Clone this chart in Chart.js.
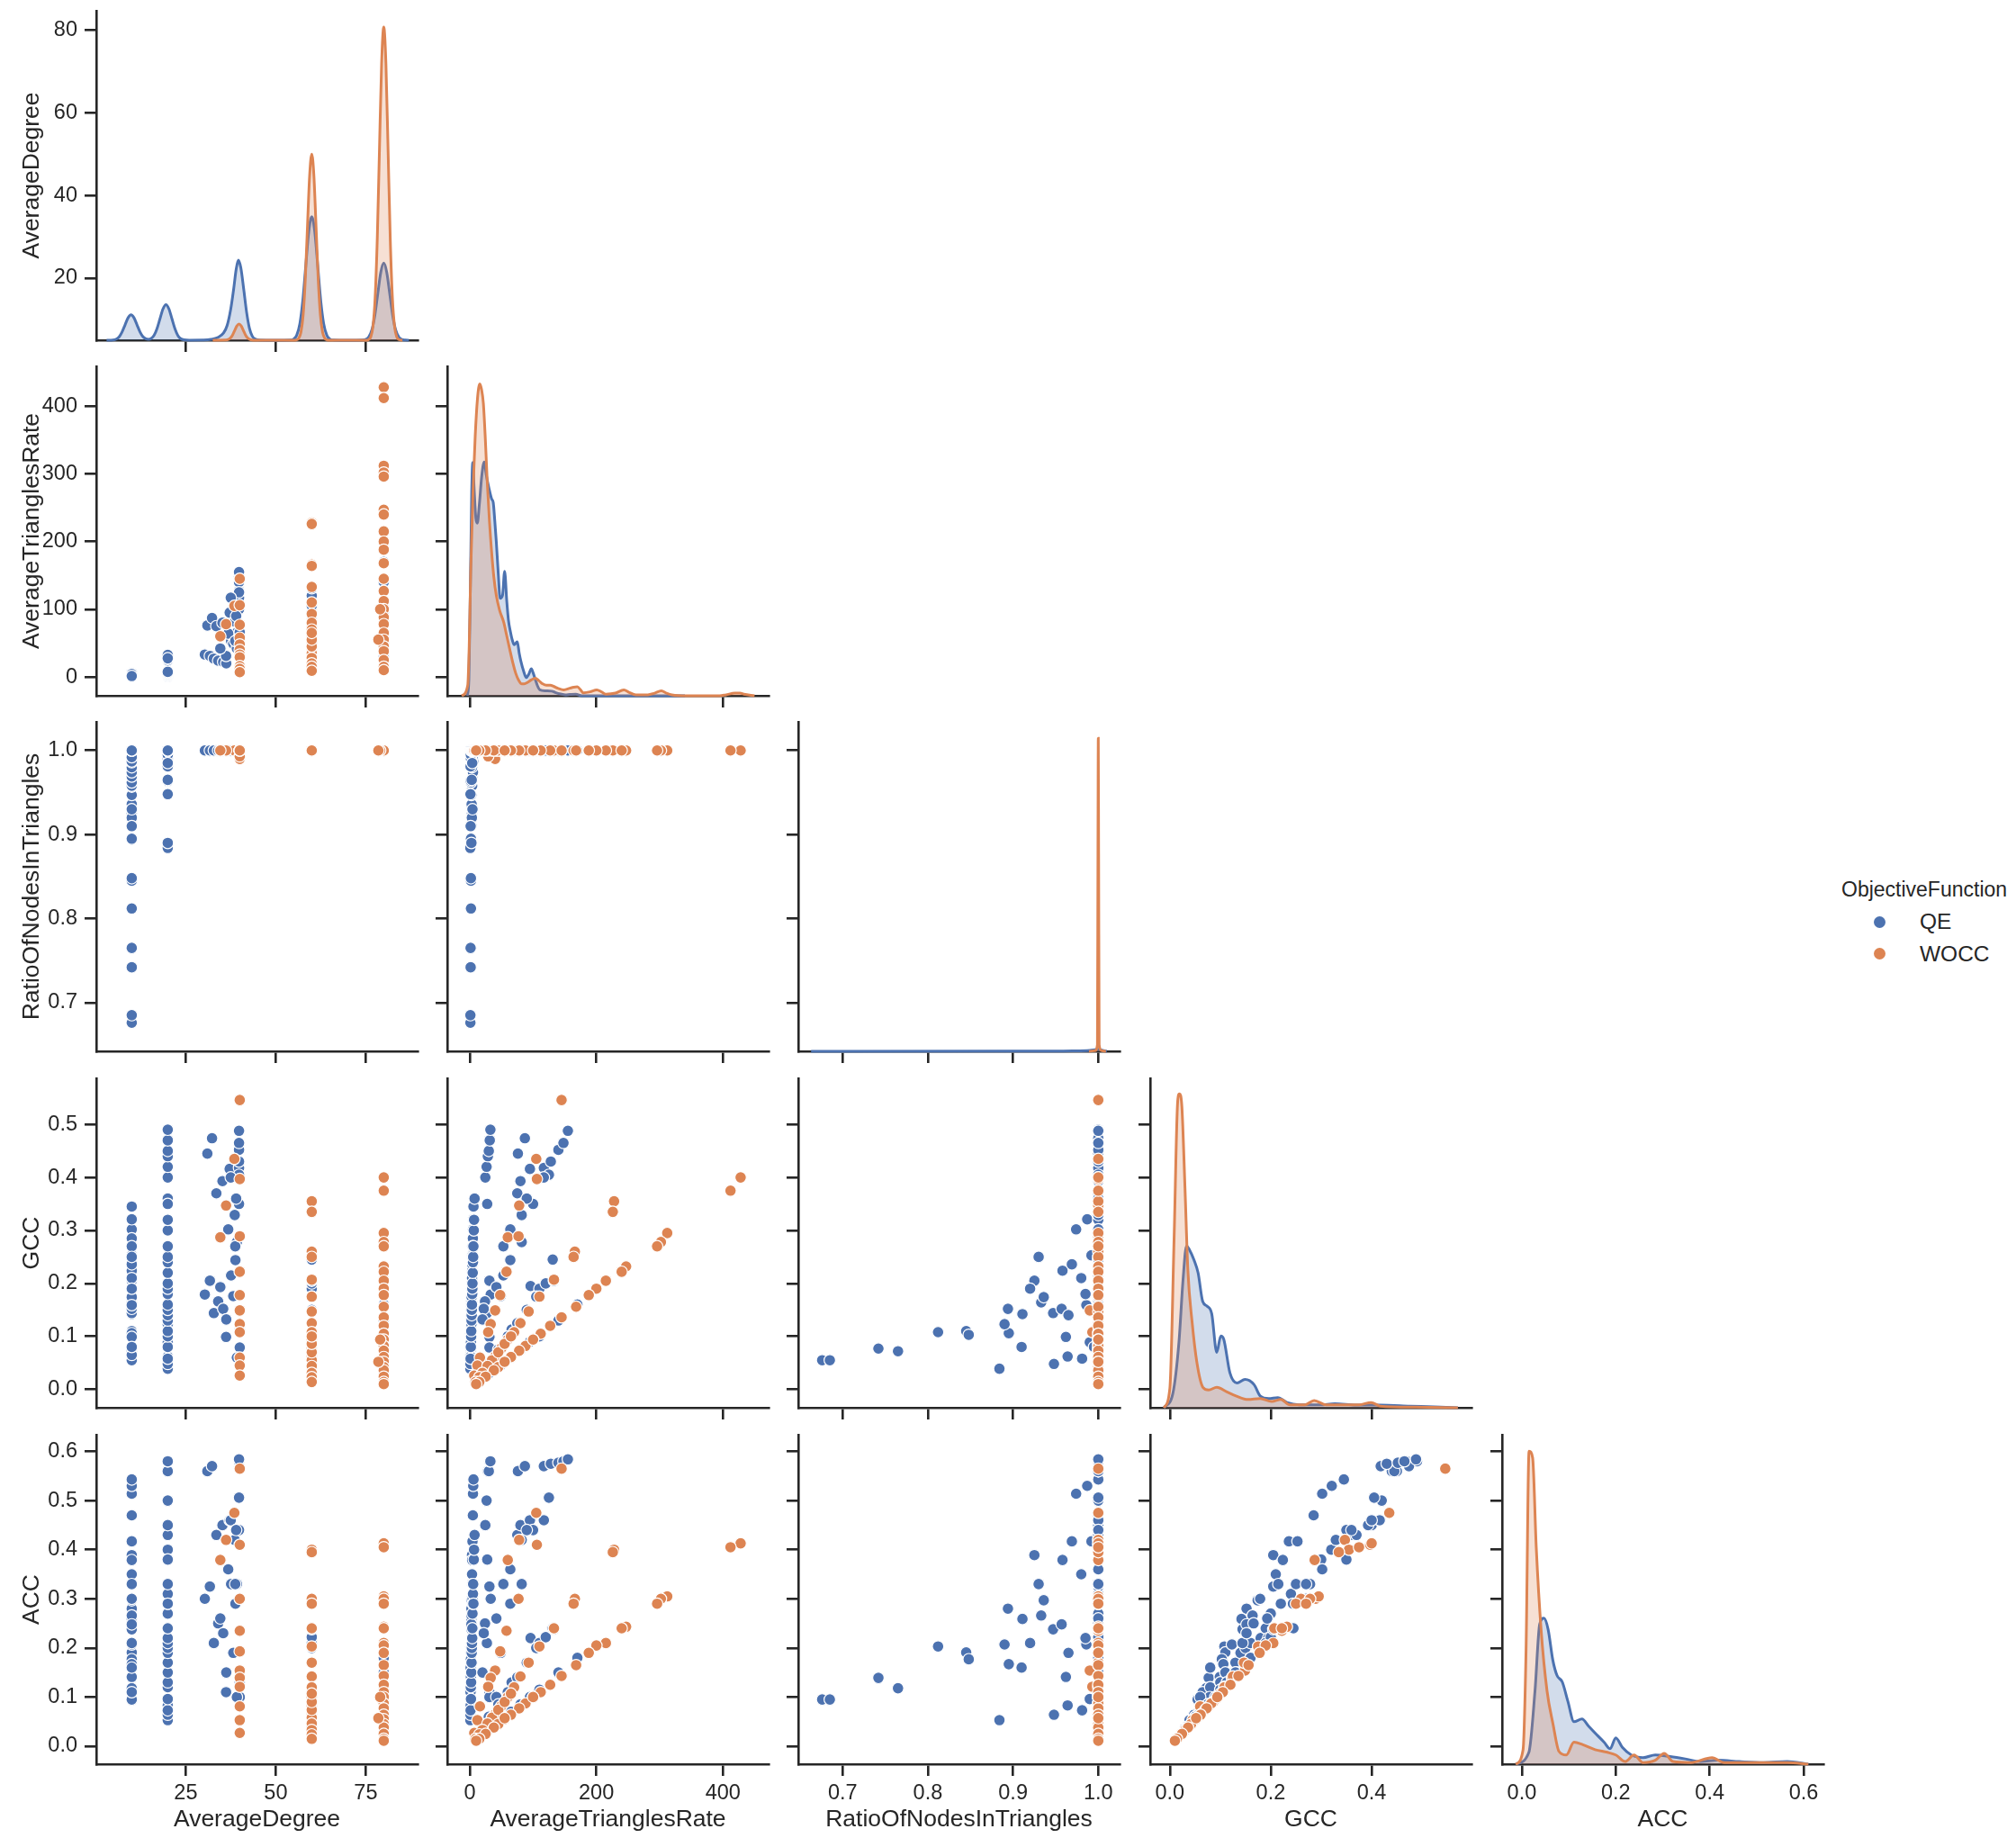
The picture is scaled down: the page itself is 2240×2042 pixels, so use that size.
<!DOCTYPE html>
<html><head><meta charset="utf-8">
<script src="https://cdn.jsdelivr.net/npm/chart.js@4.4.1/dist/chart.umd.min.js"></script>
<style>
html,body{margin:0;padding:0;background:#fff;width:2240px;height:2042px;overflow:hidden;position:relative;}
canvas{position:absolute;}
.lg{position:absolute;font-family:"Liberation Sans",Arial,sans-serif;color:#262626;white-space:nowrap;line-height:1;}
.dot{position:absolute;border-radius:50%;}
</style></head><body>
<script>
// ---------------- data ----------------
const variables = ['AverageDegree','AverageTrianglesRate','RatioOfNodesInTriangles','GCC','ACC'];
const hueTitle = 'ObjectiveFunction';
const hueLevels = ['QE','WOCC'];

// QE observations (one entry per observation, same order in every array)
const qeDegree = [
  10,10,10,10,10,10,10,10,10,10, 10,10,10,10,10,10,10,10,10,10, 10,10,10,10,10,10,10,10,10,10,
  20,20,20,20,20,20,20,20,20,20, 20,20,20,20,20,20,20,20,20,20, 20,20,20,20,20,20,20,20,20,20,
  31,32.3,33.5,35.2,37.2,30.3,31.7,32.8,34,35.4, 36.25,36.2,34.6,37.6,38.2,38.8,39.2,36.8,38.6,39.8,
  39.8,39.8,39.8,39.8,39.8,40,40,39.2,39.8,37.5, 39,38.75,
  60,60,60,60,60,60,60,60,60,60, 60,60,
  80,80,80,80,80,80,80,80
];
const qeTriangles = [
  0.9,0.9,1.3,1.2,1.8,1.8,1.7,2.5,1.8,2.4, 3.4,2.7,2.9,2.4,2.5,3.7,1.7,3.9,5.0,3.5, 2.7,5.4,4.2,5.8,4.8,4.5,1.1,3.2,4.2,1.3,
  0.8,2.5,1.0,1.3,1.2,1.8,1.6,2.1,2.3,2.7, 3.0,3.2,3.4,3.8,4.0,4.2,4.6,5.0,5.3,5.7, 6.3,6.7,7.5,24.5,26.5,28.5,30,31.5,32.5,27.5,
  76,87,75,80,95,33,31,27,24,22, 20,31,42,53,49,64,82,64,82,100,
  117,128,140,148,155,66,31,42,125,117, 90,53,
  96,110,120,133,131,60,45,30,75,90, 20,105,
  50,80,110,140,30,170,65,95
];
const qeRatio = [
  .676,.685,.742,.765,.812,.845,.848,.894,.895,.911, .925,.933,.936,.947,.957,.958,.962,.969,.974,.980, .986,.987,.992,1,1,1,1,.92,.93,.91,
  .884,.890,.948,.964,.981,.990,.995,1,1,1, .965,1,1,.985,1,1,1,1,1,1, 1,1,1,1,1,1,1,1,1,1,
  1,1,1,1,1,1,1,1,1,1, 1,1,1,1,1,1,1,1,1,1,
  1,1,1,1,1,1,1,1,1,1, 1,1,
  1,1,1,1,1,1,1,1,1,1, 1,1,
  1,1,1,1,1,1,1,1
];
const qeGcc = [
  .055,.055,.077,.072,.108,.110,.103,.152,.106,.142, .205,.164,.174,.144,.152,.224,.099,.236,.302,.210, .159,.321,.253,.345,.285,.270,.065,.190,.250,.080,
  .039,.123,.048,.062,.058,.089,.080,.100,.110,.130, .140,.150,.160,.180,.190,.200,.220,.240,.250,.270, .300,.320,.360,.400,.420,.440,.450,.470,.490,.350,
  .445,.474,.37,.393,.416,.179,.205,.144,.166,.152, .132,.099,.193,.215,.176,.244,.278,.302,.329,.35,
  .418,.43,.452,.465,.488,.113,.079,.06,.405,.40, .36,.27,
  .195,.19,.20,.205,.245,.10,.075,.05,.125,.15, .035,.175,
  .047,.075,.10,.13,.03,.16,.06,.09
];
const qeAcc = [
  .095,.095,.139,.118,.203,.191,.177,.280,.167,.259, .389,.266,.297,.238,.248,.379,.141,.417,.514,.350, .207,.530,.417,.543,.470,.300,.110,.210,.330,.160,
  .053,.207,.064,.083,.073,.096,.120,.130,.150,.170, .190,.200,.210,.220,.240,.270,.290,.310,.330,.290, .380,.400,.430,.450,.500,.560,.560,.580,.580,.380,
  .56,.57,.43,.45,.46,.30,.325,.21,.25,.23, .15,.11,.26,.33,.19,.29,.33,.36,.42,.44,
  .57,.575,.577,.58,.584,.13,.10,.10,.506,.46, .44,.33,
  .22,.21,.222,.238,.24,.11,.085,.06,.14,.17, .04,.20,
  .055,.085,.115,.15,.035,.18,.07,.10
];

// WOCC observations
const woccDegree = [
  40,38.5,36.2,34.6,40,40,40,40,40,40, 40,40,40,40,
  60,60,60,60,60,60,60,60,60,60, 60,60,60,60,60,60,60,60,60,60,
  80,80,80,80,80,80,80,80,80,80, 80,80,80,80,80,80,80,80,80,80, 80,80,80,80,79,78.5
];
const woccTriangles = [
  145,105,78,60,106,77,58,48,40,33, 29,16,12,7,
  228,226,166,164,133,110,93,80,70,60, 50,40,35,28,20,15,9,45,55,65,
  428,412,312,302,296,247,240,215,200,188, 168,145,127,112,100,88,78,65,55,45, 38,25,15,10,100,55
];
const woccRatio = [
  1,1,1,1,1,1,1,1,.99,1, .993,1,1,1,
  1,1,1,1,1,1,1,1,1,1, 1,1,1,1,1,1,1,1,1,1,
  1,1,1,1,1,1,1,1,1,1, 1,1,1,1,1,1,1,1,1,1, 1,1,1,1,1,1
];
const woccGcc = [
  .546,.435,.347,.287,.397,.289,.222,.178,.149,.123, .108,.06,.045,.026,
  .355,.335,.26,.25,.207,.175,.147,.125,.108,.094, .078,.062,.055,.044,.031,.023,.014,.07,.086,.10,
  .40,.375,.295,.278,.27,.232,.222,.205,.19,.178, .156,.136,.12,.105,.094,.082,.073,.061,.052,.042, .036,.024,.014,.01,.094,.052
];
const woccAcc = [
  .565,.475,.42,.379,.41,.30,.235,.193,.154,.139, .121,.081,.053,.027,
  .40,.395,.30,.29,.24,.203,.17,.142,.12,.10, .082,.065,.058,.046,.033,.024,.015,.074,.09,.107,
  .413,.405,.305,.30,.29,.243,.24,.21,.205,.19, .165,.143,.125,.11,.10,.087,.077,.064,.055,.045, .038,.025,.015,.011,.10,.057
];

// Density curves on the diagonal: [value, height in % of panel height]
const kdeDegreeQE = [[3,0],[4.8,0.08],[5.7,0.34],[6.5,1.04],[7.3,2.5],[8.15,4.7],[8.97,6.8],[9.8,7.7],[10.63,6.8],[11.45,4.7],[12.3,2.5],[13.1,1.1],[13.9,0.45],[14.65,0.3],[15.4,0.55],[16.2,1.5],[17,3.5],[17.85,6.55],[18.67,9.5],[19.5,10.8],[20.33,9.5],[21.15,6.55],[22,3.5],[22.8,1.46],[23.6,0.48],[24.5,0.12],[26,0.02],[30,0.05],[32,0.25],[34,0.9],[35.5,2.2],[36.5,4.5],[37.5,9.5],[38.3,15.5],[39,21.5],[39.6,24.3],[40.3,22],[41.1,15.5],[41.9,8.5],[42.7,3.6],[43.5,1.2],[44.4,0.3],[45.5,0.05],[50,0],[54,0.05],[55,0.38],[55.8,1.47],[56.7,5.07],[57.5,11.9],[58.35,22.8],[59.17,33],[60,37.5],[60.83,33],[61.65,22.8],[62.5,11.9],[63.3,5.07],[64.2,1.47],[65,0.38],[66,0.05],[70,0],[74,0.05],[75,0.24],[75.8,0.92],[76.7,3.16],[77.5,7.4],[78.35,14.2],[79.17,20.6],[80,23.4],[80.83,20.6],[81.65,14.2],[82.5,7.4],[83.3,3.16],[84.2,0.92],[85,0.24],[86,0.05],[87,0]];
const kdeDegreeWOCC = [[32.5,0],[36.2,0.05],[36.8,0.21],[37.4,0.66],[38,1.59],[38.6,2.97],[39.2,4.32],[39.8,4.9],[40.4,4.32],[41,2.97],[41.6,1.59],[42.2,0.66],[42.8,0.21],[43.4,0.05],[44.5,0],[55.5,0],[55.8,0.12],[56.4,0.62],[57,2.49],[57.6,7.6],[58.2,18.4],[58.8,34.3],[59.4,49.8],[60,56.5],[60.6,49.8],[61.2,34.3],[61.8,18.4],[62.4,7.6],[63,2.49],[63.6,0.62],[64.2,0.12],[64.8,0],[75.5,0],[75.8,0.21],[76.4,1.05],[77,4.2],[77.6,12.8],[78.2,30.9],[78.8,57.7],[79.4,83.9],[80,95.1],[80.6,83.9],[81.2,57.7],[81.8,30.9],[82.4,12.8],[83,4.2],[83.6,1.05],[84.2,0.21],[85.2,0]];
const kdeTrianglesQE = [[-4,0],[-1.5,5],[1,35],[3,62],[4.7,70.8],[7,62],[9.5,54],[11.9,52.4],[15,58],[19,67],[22.8,71],[26,67],[29.9,63.3],[34.6,59.7],[37,58.7],[39.5,53],[41.8,46.9],[45,37],[47.9,29.6],[51.7,30.5],[55,37.8],[58.4,28.7],[61,23],[64,19.6],[67,17],[70.2,15.5],[75,16.4],[78,13],[80.7,10.5],[85,7.5],[89.2,5.5],[93,6.5],[97.3,8.2],[100,7],[103.4,5],[107,3],[110.6,1.8],[120,1.5],[129.5,1.4],[135,1],[141.4,0.6],[150.9,0.3],[158,0.4],[167.5,0.5],[177,0],[340,0]];
const kdeTrianglesWOCC = [[-12.8,0],[-3.3,3.2],[-1,15],[1.4,37.8],[5,62],[8.5,78.8],[12,90],[15.7,94.7],[18.5,93],[21.4,88.8],[24.5,78],[27.5,65.1],[31,53],[34.6,43.3],[38,36],[41.8,30.5],[47,26],[53.6,22.3],[58,18.5],[63.1,14.1],[68,10],[72.6,6.8],[77,4.8],[82.1,3.6],[86,3.6],[91.6,4.1],[97,4.8],[103.4,5.3],[109,4.6],[115.3,3.6],[121,3.2],[127.2,3.2],[133,2.8],[139,2.3],[148.5,1.8],[158,2.3],[164,2.6],[169.9,2.7],[175,1.8],[179.4,0.9],[190,1.2],[200.7,1.8],[208,1.2],[215,0.5],[230,0.8],[243.4,1.8],[252,1],[262.4,0.3],[281.4,0.3],[292,0.8],[302.7,1.5],[311,0.8],[319.3,0.3],[343,0],[395,0],[405,0.3],[419,0.8],[427,0.8],[433,0.5],[450,0]];
const kdeRatioQE = [[0.663,0],[0.9,0.05],[0.97,0.15],[0.99,0.3],[1.0,0.6],[1.005,0.3],[1.01,0]];
const kdeRatioWOCC = [[0.989,0],[0.996,0.2],[0.999,2],[0.9996,60],[1.0,95],[1.0004,60],[1.001,2],[1.004,0.2],[1.009,0]];
const kdeGccQE = [[-0.012,0],[0.006,4.4],[0.018,19.9],[0.026,38.6],[0.033,49.1],[0.039,47.9],[0.048,44.8],[0.056,40.9],[0.065,32.3],[0.074,30.8],[0.083,28.5],[0.093,16.8],[0.101,21.8],[0.107,20.7],[0.119,10.6],[0.133,7.5],[0.149,8.6],[0.167,7.0],[0.179,3.6],[0.196,2.8],[0.214,3.1],[0.232,1.6],[0.256,0.9],[0.298,0.9],[0.327,1.2],[0.369,0.8],[0.417,0.8],[0.476,0.5],[0.536,0.2],[0.571,0]];
const kdeGccWOCC = [[-0.012,0],[0,5.9],[0.0083,51],[0.0155,93],[0.019,95.3],[0.0238,91.4],[0.03,66.6],[0.0357,41.7],[0.044,26.1],[0.0536,13.7],[0.0655,6.2],[0.077,5.4],[0.093,6.2],[0.113,4.8],[0.131,3.6],[0.155,2.5],[0.179,2.8],[0.202,1.9],[0.22,2.5],[0.238,0.9],[0.268,0.9],[0.286,2.2],[0.31,0.9],[0.345,0.9],[0.375,0.9],[0.399,1.6],[0.417,0.5],[0.488,0.2],[0.571,0]];
const kdeAccQE = [[-0.013,0],[0.015,3.6],[0.028,22.2],[0.038,42.5],[0.047,44.3],[0.056,40.9],[0.066,31.6],[0.075,26.9],[0.086,25],[0.098,19.1],[0.111,12.9],[0.128,13.7],[0.143,11.4],[0.159,9],[0.175,6.7],[0.188,4.7],[0.2,8],[0.214,5.1],[0.233,2.8],[0.258,2],[0.284,2.8],[0.316,2.3],[0.348,1.6],[0.38,0.8],[0.418,1.2],[0.463,0.8],[0.514,0.5],[0.565,0.8],[0.61,0]];
const kdeAccWOCC = [[-0.013,0],[0.0026,4.4],[0.009,34.7],[0.0154,95],[0.023,93],[0.0307,65.8],[0.041,40.9],[0.0537,22.2],[0.0665,12.1],[0.079,3.9],[0.0947,2.8],[0.111,6.7],[0.13,5.9],[0.156,4.4],[0.182,3.6],[0.2,2.8],[0.22,0.8],[0.239,2.8],[0.258,0.5],[0.284,1.2],[0.303,3.3],[0.322,0.8],[0.36,0.5],[0.405,2.0],[0.431,0.5],[0.463,0.5],[0.565,0.5],[0.61,0]];

// tick values
const xTickValues = [[25,50,75],[0,200,400],[0.7,0.8,0.9,1.0],[0,0.2,0.4],[0,0.2,0.4,0.6]];
const yTickValues = [[20,40,60,80],[0,100,200,300,400],[0.7,0.8,0.9,1.0],[0,0.1,0.2,0.3,0.4,0.5],[0,0.1,0.2,0.3,0.4,0.5,0.6]];
const tickDecimals = [0,0,1,1,1];

// ---------------- presentation ----------------
const xRanges = [[0.15,89.4],[-35.6,472.2],[0.648,1.025],[-0.039,0.598],[-0.042,0.642]];
const yRanges = [[4.95,84.7],[-27.9,458.9],[0.642,1.034],[-0.0347,0.587],[-0.0367,0.634]];
const FONT = '"Liberation Sans", Arial, sans-serif';
const INK = '#262626';
const COLORS = ['#4c72b0', '#dd8452'];
const FILLS = ['rgba(76,114,176,0.25)', 'rgba(221,132,82,0.25)'];
const G = {colLeft:[107,497,887,1278,1669], rowTop:[12,407,802,1198,1594], w:357, h:366, padL:107, padT:30, padR:30, padB:82};

const qeColumns = [qeDegree, qeTriangles, qeRatio, qeGcc, qeAcc];
const woccColumns = [woccDegree, woccTriangles, woccRatio, woccGcc, woccAcc];
const hueColumns = [qeColumns, woccColumns];
const kdeCurves = [
  [kdeDegreeQE, kdeDegreeWOCC], [kdeTrianglesQE, kdeTrianglesWOCC], [kdeRatioQE, kdeRatioWOCC],
  [kdeGccQE, kdeGccWOCC], [kdeAccQE, kdeAccWOCC]
];

function axis(varIdx, isX, showLabels, showTitle) {
  const r = isX ? xRanges[varIdx] : yRanges[varIdx];
  const tv = isX ? xTickValues[varIdx] : yTickValues[varIdx];
  return {
    type: 'linear', position: isX ? 'bottom' : 'left',
    min: r[0], max: r[1],
    afterBuildTicks: s => { s.ticks = tv.map(v => ({value: v})); },
    afterFit: s => { if (isX) s.height = G.padB; else s.width = G.padL; },
    grid: {display: true, drawOnChartArea: false, drawTicks: true, tickLength: 13, tickWidth: 2.6, tickColor: INK, color: INK, lineWidth: 2.6},
    border: {display: true, color: INK, width: 2.6},
    ticks: {display: showLabels, color: INK, font: {family: FONT, size: 23.5}, padding: isX ? 5 : 8,
             maxRotation: 0, minRotation: 0, autoSkip: false,
             callback: v => Number(v).toFixed(tickDecimals[varIdx])},
    title: {display: showTitle, text: variables[varIdx], color: INK, font: {family: FONT, size: 26.5},
            padding: isX ? {top: 0, bottom: 4} : {top: 20, bottom: 0}}
  };
}

function makePanel(i, j) {
  const c = document.createElement('canvas');
  const W = G.padL + G.w + G.padR, H = G.padT + G.h + G.padB;
  c.width = W; c.height = H;
  c.style.width = W + 'px'; c.style.height = H + 'px';
  c.style.left = (G.colLeft[j] - G.padL) + 'px';
  c.style.top = (G.rowTop[i] - G.padT) + 'px';
  document.body.appendChild(c);
  const scales = {x: axis(j, true, i === 4, i === 4), y: axis(i, false, j === 0, j === 0)};
  const datasets = [];
  if (i === j) {
    scales.yk = {type: 'linear', display: false, min: 0, max: 100};
    [0, 1].forEach(h => {
      datasets.push({
        type: 'line', label: hueLevels[h], xAxisID: 'x', yAxisID: 'yk',
        data: kdeCurves[i][h].map(p => ({x: p[0], y: p[1]})),
        borderColor: COLORS[h], borderWidth: 3, backgroundColor: FILLS[h],
        fill: 'origin', pointRadius: 0, cubicInterpolationMode: 'monotone',
        clip: false, order: 1 - h
      });
    });
  } else {
    [0, 1].forEach(h => {
      const xs = hueColumns[h][j], ys = hueColumns[h][i];
      datasets.push({
        type: 'scatter', label: hueLevels[h], xAxisID: 'x', yAxisID: 'y',
        data: xs.map((v, k) => ({x: v, y: ys[k]})),
        pointRadius: 6.4, pointBorderWidth: 1.2, pointBorderColor: '#ffffff',
        pointBackgroundColor: COLORS[h], showLine: false, order: 1 - h, clip: false
      });
    });
  }
  new Chart(c, {
    type: 'scatter',
    data: {datasets},
    options: {
      responsive: false, animation: false, devicePixelRatio: 1, events: [],
      layout: {padding: {left: 0, top: G.padT, right: G.padR, bottom: 0}},
      plugins: {legend: {display: false}, tooltip: {enabled: false}},
      scales
    }
  });
}

for (let i = 0; i < 5; i++) for (let j = 0; j <= i; j++) makePanel(i, j);

// legend
function addText(txt, left, top, size) {
  const d = document.createElement('div');
  d.className = 'lg'; d.textContent = txt;
  d.style.left = left + 'px'; d.style.top = top + 'px'; d.style.fontSize = size + 'px';
  document.body.appendChild(d);
}
addText(hueTitle, 2046, 977, 23);
hueLevels.forEach((name, h) => {
  const cy = 1024 + h * 35.3;
  const dot = document.createElement('div');
  dot.className = 'dot';
  dot.style.left = (2088 - 6.5) + 'px'; dot.style.top = (cy - 6.5) + 'px';
  dot.style.width = '13px'; dot.style.height = '13px';
  dot.style.background = COLORS[h];
  document.body.appendChild(dot);
  addText(name, 2133, cy - 11.6, 24.5);
});
</script>
</body></html>
